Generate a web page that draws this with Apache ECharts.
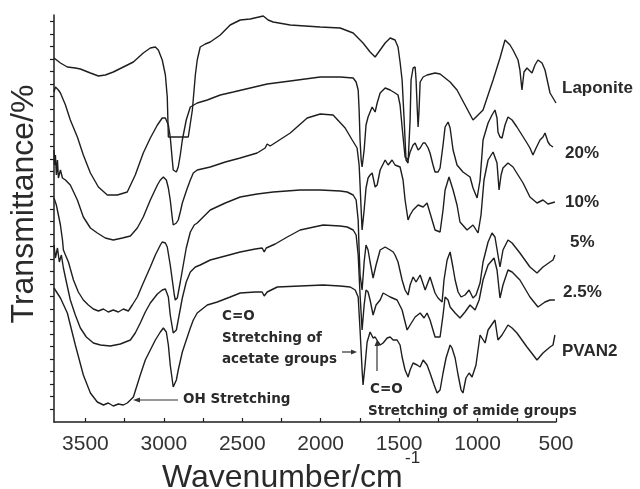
<!DOCTYPE html>
<html>
<head>
<meta charset="utf-8">
<title>FTIR spectra</title>
<script src="https://cdn.jsdelivr.net/npm/echarts@6.0.0/dist/echarts.min.js"></script>
<style>
  html, body { margin: 0; padding: 0; background: #fff; }
  #chart { width: 640px; height: 489px; }
</style>
</head>
<body>
<div id="chart"></div>
<script>
// [wavenumber cm-1, transmittance (stacked, arbitrary units)]
const laponite = [[3700,364],[3659,359],[3615,355],[3564,354],[3532,353],[3468,349],[3417,346],[3373,347],[3322,350],[3258,355],[3194,360],[3131,369],[3086,374],[3054,375],[3035,372],[3010,362],[2990,347],[2978,325],[2971,285],[2908,285],[2844,285],[2818,312],[2799,347],[2787,362],[2768,375],[2736,378],[2704,380],[2640,387],[2577,397],[2513,402],[2449,403],[2366,406],[2335,402],[2303,400],[2194,397],[2003,395],[1876,394],[1793,389],[1730,379],[1685,370],[1653,365],[1621,372],[1589,379],[1557,384],[1526,382],[1507,375],[1494,360],[1481,342],[1468,302],[1456,262],[1443,259],[1430,302],[1424,342],[1411,354],[1398,355],[1392,342],[1385,315],[1379,295],[1373,312],[1366,340],[1347,345],[1322,347],[1271,349],[1239,348],[1175,340],[1131,332],[1080,317],[1029,302],[997,307],[965,312],[933,327],[901,342],[857,364],[825,382],[793,377],[774,372],[742,362],[730,352],[717,332],[704,350],[685,354],[653,349],[634,357],[615,362],[589,359],[570,352],[538,329],[519,324],[500,319]];

const p20 = [[3700,330],[3691,335],[3672,332],[3659,329],[3627,317],[3596,302],[3551,285],[3513,267],[3468,249],[3417,235],[3360,227],[3296,227],[3233,230],[3182,247],[3131,269],[3086,284],[3041,297],[3010,304],[2990,304],[2971,297],[2959,285],[2946,262],[2940,252],[2920,250],[2908,255],[2895,267],[2882,282],[2857,302],[2831,315],[2787,319],[2723,322],[2640,327],[2557,330],[2449,334],[2341,338],[2194,341],[2003,345],[1876,345],[1793,344],[1774,340],[1761,332],[1755,312],[1749,282],[1742,262],[1736,255],[1723,272],[1711,297],[1698,305],[1685,310],[1672,315],[1653,310],[1640,319],[1621,329],[1589,334],[1557,332],[1526,329],[1507,327],[1494,317],[1481,295],[1462,265],[1443,262],[1430,270],[1411,277],[1398,279],[1379,272],[1366,274],[1347,279],[1334,279],[1315,274],[1303,269],[1284,257],[1271,250],[1252,250],[1239,254],[1220,277],[1207,295],[1188,300],[1175,294],[1156,272],[1131,257],[1093,250],[1048,245],[1029,234],[1003,224],[984,242],[965,282],[933,299],[908,307],[889,312],[876,304],[870,290],[857,285],[844,284],[825,297],[806,305],[780,302],[749,295],[717,287],[685,279],[666,274],[647,267],[627,274],[602,282],[583,285],[570,289],[551,280],[538,277],[519,275]];

const p10 = [[3700,272],[3697,257],[3691,267],[3685,247],[3678,262],[3672,244],[3659,252],[3646,244],[3627,242],[3596,237],[3551,222],[3513,205],[3468,194],[3424,189],[3373,184],[3322,182],[3264,184],[3213,186],[3169,194],[3131,205],[3086,222],[3041,237],[3022,242],[3003,245],[2984,242],[2971,234],[2959,222],[2946,204],[2940,197],[2920,199],[2908,202],[2895,210],[2882,219],[2850,234],[2831,242],[2812,249],[2787,252],[2704,255],[2608,260],[2513,264],[2405,269],[2354,274],[2341,278],[2322,276],[2194,289],[2086,304],[2003,308],[1921,307],[1844,294],[1799,282],[1768,274],[1755,257],[1749,237],[1742,212],[1736,192],[1723,212],[1711,234],[1698,244],[1685,247],[1672,249],[1653,235],[1640,237],[1621,252],[1589,262],[1570,257],[1545,262],[1526,257],[1494,255],[1475,242],[1462,222],[1443,202],[1430,207],[1411,212],[1379,217],[1347,215],[1322,219],[1303,209],[1271,192],[1239,190],[1220,212],[1207,232],[1182,245],[1156,232],[1131,217],[1112,200],[1067,192],[1029,197],[997,189],[978,207],[959,242],[933,262],[901,270],[876,259],[863,232],[850,247],[838,254],[806,259],[774,255],[742,247],[710,239],[666,225],[621,219],[583,222],[551,218],[507,220]];

const p5 = [[3700,224],[3685,217],[3672,207],[3659,197],[3646,182],[3640,172],[3627,167],[3608,160],[3576,142],[3545,130],[3513,122],[3481,117],[3449,113],[3417,111],[3385,113],[3354,110],[3322,112],[3290,110],[3258,113],[3226,111],[3201,117],[3169,125],[3131,139],[3086,155],[3054,167],[3022,177],[3010,180],[2990,179],[2978,175],[2959,157],[2946,142],[2933,127],[2927,122],[2914,124],[2895,140],[2876,157],[2857,174],[2831,190],[2806,197],[2787,199],[2736,207],[2704,212],[2608,219],[2513,225],[2405,228],[2303,230],[2131,232],[2003,232],[1876,231],[1831,230],[1793,227],[1774,222],[1761,202],[1755,172],[1749,147],[1736,132],[1723,160],[1711,177],[1698,172],[1685,160],[1666,144],[1647,157],[1621,172],[1589,175],[1557,172],[1538,170],[1526,167],[1507,160],[1481,142],[1462,132],[1443,127],[1430,137],[1411,145],[1392,140],[1366,147],[1334,132],[1315,140],[1303,145],[1271,129],[1252,124],[1226,120],[1214,142],[1194,162],[1175,170],[1156,154],[1143,142],[1124,130],[1105,125],[1080,127],[1054,132],[1029,124],[1010,127],[984,139],[965,160],[933,180],[908,189],[889,185],[870,167],[857,155],[838,172],[806,182],[780,179],[730,169],[666,155],[621,149],[583,155],[538,160],[519,162],[507,167]];

const p2_5 = [[3700,177],[3691,164],[3678,174],[3666,160],[3653,167],[3640,154],[3621,140],[3596,122],[3564,107],[3532,94],[3494,85],[3449,79],[3404,77],[3341,76],[3277,78],[3213,82],[3182,89],[3150,99],[3118,110],[3086,119],[3041,128],[3010,132],[2990,133],[2971,125],[2959,107],[2940,89],[2920,92],[2908,102],[2882,124],[2857,140],[2831,150],[2799,155],[2768,157],[2704,162],[2608,166],[2513,170],[2417,173],[2373,174],[2360,170],[2347,174],[2290,178],[2213,185],[2131,192],[1984,197],[1876,196],[1831,195],[1793,192],[1774,187],[1761,167],[1749,127],[1736,92],[1723,117],[1711,132],[1698,130],[1685,122],[1666,107],[1647,117],[1621,122],[1602,129],[1557,125],[1513,122],[1481,112],[1462,100],[1449,92],[1430,97],[1398,105],[1366,109],[1341,104],[1322,109],[1303,102],[1271,85],[1239,85],[1220,107],[1207,125],[1188,122],[1175,115],[1143,109],[1112,104],[1080,110],[1048,117],[1016,112],[990,122],[965,142],[933,157],[895,164],[876,152],[857,124],[838,137],[806,152],[780,150],[730,142],[666,125],[615,115],[570,120],[538,122],[507,122]];

const pvan2 = [[3700,134],[3691,132],[3659,124],[3615,109],[3564,77],[3513,47],[3468,29],[3424,20],[3385,17],[3354,19],[3322,16],[3290,18],[3258,17],[3233,19],[3213,22],[3194,25],[3150,47],[3118,62],[3086,72],[3054,82],[3022,90],[3003,94],[2984,90],[2971,77],[2959,57],[2940,35],[2920,42],[2908,52],[2882,70],[2863,79],[2831,94],[2812,102],[2787,109],[2723,117],[2659,120],[2577,125],[2513,129],[2417,130],[2373,130],[2360,126],[2341,130],[2277,135],[2131,136],[1984,137],[1876,136],[1812,135],[1780,132],[1761,125],[1749,92],[1736,52],[1730,37],[1717,57],[1704,80],[1685,90],[1666,84],[1653,85],[1634,80],[1621,77],[1602,79],[1576,84],[1557,85],[1538,82],[1513,82],[1494,77],[1481,65],[1462,52],[1443,45],[1430,52],[1411,59],[1385,57],[1366,55],[1347,62],[1322,57],[1303,49],[1277,37],[1258,29],[1239,32],[1220,49],[1201,64],[1175,77],[1163,74],[1143,64],[1124,47],[1105,32],[1093,29],[1074,44],[1054,49],[1035,45],[1010,57],[984,87],[952,79],[933,92],[889,102],[870,82],[844,87],[806,97],[780,94],[749,89],[685,75],[621,62],[583,69],[538,75],[519,77],[507,87]];

const seriesNames = ['Laponite', '20%', '10%', '5%', '2.5%', 'PVAN2'];
const spectra = [laponite, p20, p10, p5, p2_5, pvan2];

const xTickLabels = [3500, 3000, 2500, 2000, 1500, 1000, 500];
const xTicks = [500, 750, 1000, 1250, 1500, 1750, 2000, 2250, 2500, 2750, 3000, 3250, 3500];
// unlabelled y ticks, one every 12.5 units
const yTicks = [];
for (let v = 13; v <= 401; v += 12.5) yTicks.push(v);

const ink = '#1e1e1e';
const labelFont = '"Liberation Sans", Arial, sans-serif';
const noteFont = 'bold 13.5px "DejaVu Sans", sans-serif';

const chart = echarts.init(document.getElementById('chart'));

function txt(text, x, y, font, extra) {
    return Object.assign({
        type: 'text', x: x, y: y, silent: true,
        style: {
            text: text, font: font, fill: '#2a2a2a',
            align: 'left', verticalAlign: 'middle',
            textAlign: 'left', textVerticalAlign: 'middle'
        }
    }, extra || {});
}

const option = {
    animation: false,
    backgroundColor: '#fff',
    grid: { left: 54, right: 84, top: 15, bottom: 67, containLabel: false, outerBoundsMode: 'none' },
    xAxis: {
        type: 'value', min: 500, max: 3700, inverse: true,
        axisLine: { show: true, onZero: false, lineStyle: { color: ink, width: 1.5 } },
        axisTick: { show: true, inside: true, length: 4, customValues: xTicks, lineStyle: { color: ink, width: 1.2 } },
        axisLabel: {
            customValues: xTickLabels, margin: 12, fontSize: 21, fontFamily: labelFont, color: '#333',
            formatter: function (v) { return String(v); }
        },
        splitLine: { show: false }
    },
    yAxis: {
        type: 'value', min: 0, max: 407,
        axisLine: { show: true, onZero: false, lineStyle: { color: ink, width: 1.5 } },
        axisTick: { show: true, inside: false, length: 4, customValues: yTicks, lineStyle: { color: ink, width: 1.2 } },
        axisLabel: { show: false },
        splitLine: { show: false }
    },
    series: spectra.map(function (d, i) {
        return {
            type: 'line', name: seriesNames[i], data: d,
            symbol: 'none', showSymbol: false, silent: true,
            lineStyle: { color: ink, width: 1.4 }
        };
    }),
    graphic: [
        txt('Transmittance/%', 24, 204, '32px ' + labelFont, { rotation: Math.PI / 2,
            style: { text: 'Transmittance/%', font: '32px ' + labelFont, fill: '#2a2a2a',
                align: 'center', verticalAlign: 'middle', textAlign: 'center', textVerticalAlign: 'middle' } }),
        txt('Wavenumber/cm', 162, 478, '32px ' + labelFont),
        txt('-1', 405, 458, '17px ' + labelFont),

        txt('Laponite', 562, 88, 'bold 17px ' + labelFont),
        txt('20%', 565, 153, 'bold 17px ' + labelFont),
        txt('10%', 565, 202, 'bold 17px ' + labelFont),
        txt('5%', 570, 242, 'bold 17px ' + labelFont),
        txt('2.5%', 563, 292, 'bold 17px ' + labelFont),
        txt('PVAN2', 562, 351, 'bold 17px ' + labelFont),

        txt('C=O', 222, 316, noteFont),
        txt('Stretching of', 222, 338, noteFont),
        txt('acetate groups', 222, 359, noteFont),
        { type: 'line', silent: true, shape: { x1: 342, y1: 352, x2: 353, y2: 352 }, style: { stroke: '#333', lineWidth: 1.2 } },
        { type: 'polygon', silent: true, shape: { points: [[357, 352], [351, 349.5], [351, 354.5]] }, style: { fill: '#333' } },

        txt('OH Stretching', 183, 399, noteFont),
        { type: 'line', silent: true, shape: { x1: 178, y1: 400, x2: 138, y2: 400 }, style: { stroke: '#333', lineWidth: 1.2 } },
        { type: 'polygon', silent: true, shape: { points: [[133, 400], [140, 397.5], [140, 402.5]] }, style: { fill: '#333' } },

        txt('C=O', 370, 389, noteFont),
        txt('Stretching of amide groups', 368, 411, noteFont),
        { type: 'line', silent: true, shape: { x1: 377, y1: 371, x2: 377, y2: 345 }, style: { stroke: '#333', lineWidth: 1.2 } },
        { type: 'polygon', silent: true, shape: { points: [[377, 340], [374.5, 346], [379.5, 346]] }, style: { fill: '#333' } }
    ]
};

chart.setOption(option);
</script>
</body>
</html>
